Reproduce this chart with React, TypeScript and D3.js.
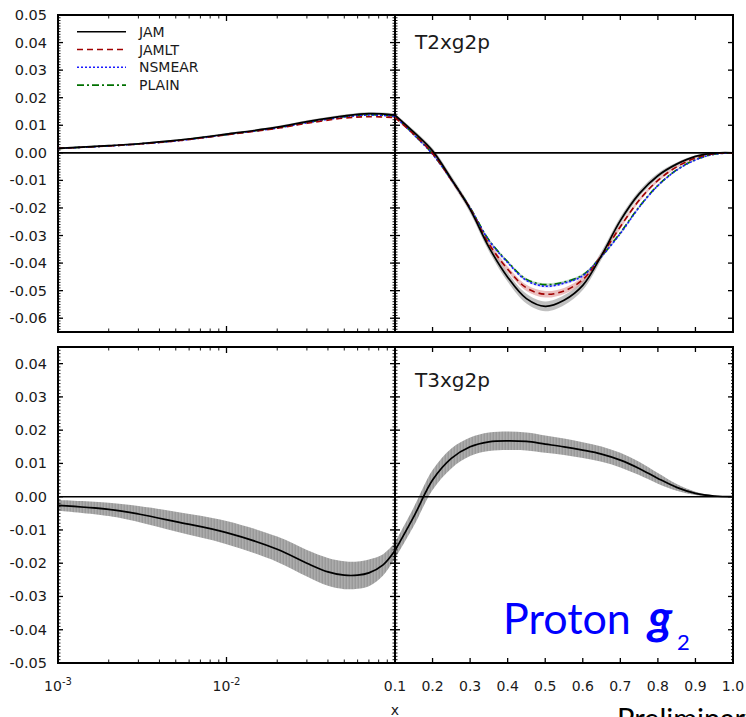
import * as d3 from "d3";

// x grids
const logX = [0.001, 0.002, 0.003, 0.005, 0.01, 0.02, 0.03, 0.05, 0.07, 0.1];
const linX = [0.1, 0.15, 0.2, 0.25, 0.3, 0.35, 0.4, 0.45, 0.5, 0.55, 0.6, 0.65, 0.7, 0.75, 0.8, 0.85, 0.9, 0.95, 1.0];

// T2xg2p (top panel)
const jamLog = [0.0016, 0.0026, 0.0033, 0.0045, 0.0068, 0.0093, 0.0113, 0.0134, 0.0142, 0.0137];
const jamltLog = [0.0016, 0.0025, 0.0032, 0.0043, 0.0065, 0.0089, 0.0107, 0.0126, 0.0131, 0.0128];
const nsmearLog = [0.0016, 0.0025, 0.0032, 0.0043, 0.0066, 0.009, 0.0109, 0.013, 0.0137, 0.0133];
const plainLog = [0.0016, 0.0025, 0.0032, 0.0044, 0.0066, 0.0091, 0.011, 0.0131, 0.0138, 0.0134];

const jamLin = [0.0137, 0.0075, 0.0007, -0.0095, -0.0205, -0.0342, -0.0451, -0.0529, -0.0557, -0.0535, -0.0481, -0.0372, -0.0246, -0.0149, -0.0083, -0.0041, -0.0013, -0.0001, 0];
const jamltLin = [0.0128, 0.0068, -0.0002, -0.0098, -0.0202, -0.033, -0.0422, -0.049, -0.0513, -0.0501, -0.046, -0.0372, -0.0268, -0.0172, -0.01, -0.0051, -0.0019, -0.0003, 0];
const nsmearLin = [0.0133, 0.0066, -0.0005, -0.0098, -0.02, -0.0318, -0.0398, -0.0463, -0.0484, -0.0473, -0.0446, -0.0376, -0.0293, -0.0198, -0.0119, -0.0063, -0.0026, -0.0005, 0];
const plainLin = [0.0134, 0.0067, -0.0004, -0.0097, -0.0199, -0.0316, -0.0395, -0.0459, -0.0478, -0.0469, -0.0443, -0.0375, -0.029, -0.0196, -0.0118, -0.0062, -0.0025, -0.0005, 0];

// band half widths
const jamErrLog = [0.0003, 0.0003, 0.0003, 0.0003, 0.0004, 0.0004, 0.0005, 0.0005, 0.0006, 0.0006];
const jamErrLin = [0.0006, 0.0008, 0.001, 0.0012, 0.0013, 0.0015, 0.0017, 0.0018, 0.0018, 0.0018, 0.0017, 0.0015, 0.0013, 0.0011, 0.0009, 0.0006, 0.0004, 0.0002, 0];
const jamltErrLin = [0.0004, 0.0005, 0.0006, 0.0007, 0.0008, 0.0009, 0.001, 0.0011, 0.0012, 0.0011, 0.001, 0.0009, 0.0008, 0.0007, 0.0006, 0.0004, 0.0003, 0.0001, 0];
const smallErrLin = [0.0003, 0.0003, 0.0003, 0.0004, 0.0004, 0.0005, 0.0005, 0.0005, 0.0005, 0.0005, 0.0005, 0.0005, 0.0005, 0.0004, 0.0004, 0.0003, 0.0002, 0.0001, 0];

// T3xg2p (bottom panel)
const t3LogX = [0.001, 0.002, 0.003, 0.005, 0.01, 0.02, 0.03, 0.04, 0.05, 0.06, 0.07, 0.085, 0.1];
const t3Log = [-0.0026, -0.0038, -0.0052, -0.0075, -0.0108, -0.0158, -0.02, -0.0226, -0.0236, -0.0236, -0.0229, -0.0205, -0.0162];
const t3ErrLog = [0.0016, 0.002, 0.0024, 0.003, 0.0035, 0.0038, 0.004, 0.0042, 0.0042, 0.0041, 0.004, 0.0032, 0.0024];
const t3Lin = [-0.0162, -0.006, 0.005, 0.0115, 0.015, 0.0165, 0.0168, 0.0166, 0.0158, 0.015, 0.014, 0.0128, 0.011, 0.0085, 0.0055, 0.0028, 0.001, 0.0002, 0];
const t3ErrLin = [0.0024, 0.0028, 0.003, 0.003, 0.0028, 0.0028, 0.0028, 0.0027, 0.0026, 0.0025, 0.0024, 0.0023, 0.0022, 0.002, 0.0016, 0.001, 0.0005, 0.0002, 0];

const topTicks = [0.05, 0.04, 0.03, 0.02, 0.01, 0, -0.01, -0.02, -0.03, -0.04, -0.05, -0.06];
const botTicks = [0.04, 0.03, 0.02, 0.01, 0, -0.01, -0.02, -0.03, -0.04, -0.05];
const linTickLabels = ["0.1", "0.2", "0.3", "0.4", "0.5", "0.6", "0.7", "0.8", "0.9", "1.0"];

const series = [
  { name: "JAM", color: "#000000", dash: "", log: jamLog, lin: jamLin },
  { name: "JAMLT", color: "#a00000", dash: "6,4", log: jamltLog, lin: jamltLin },
  { name: "NSMEAR", color: "#1a1aff", dash: "2,2", log: nsmearLog, lin: nsmearLin },
  { name: "PLAIN", color: "#007000", dash: "7,3,2,3", log: plainLog, lin: plainLin },
];

const L = 58, M = 395, R = 733;
const xLog = d3.scaleLog().domain([0.001, 0.1]).range([L, M]);
const xLin = d3.scaleLinear().domain([0.1, 1.0]).range([M, R]);
const yTop = d3.scaleLinear().domain([-0.065, 0.05]).range([332, 15]);
const yBot = d3.scaleLinear().domain([-0.05, 0.045]).range([663, 347]);

const FONT = "DejaVu Sans, sans-serif";
const curve = d3.curveCatmullRom.alpha(0.5);

function fmt(v: number) {
  const r = Math.round(v * 100);
  return (r < 0 ? "-" : "") + (Math.abs(r) / 100).toFixed(2);
}

function linePath(xs: number[], ys: number[], xs_: any, ys_: any) {
  return d3
    .line<number>()
    .x((_, i) => xs_(xs[i]))
    .y((d) => ys_(d))
    .curve(curve)(ys) || "";
}

function bandPath(xs: number[], ys: number[], err: number[], xs_: any, ys_: any) {
  return d3
    .area<number>()
    .x((_, i) => xs_(xs[i]))
    .y0((d, i) => ys_(d - err[i]))
    .y1((d, i) => ys_(d + err[i]))
    .curve(curve)(ys) || "";
}

const logMinor: number[] = [];
[0.001, 0.01].forEach((b) => d3.range(2, 10).forEach((k) => logMinor.push(k * b)));
const linMajor = d3.range(0, 10).map((i) => 0.1 + i * 0.1);

function Panel({ y, majors, top, bottom }: { y: any; majors: number[]; top: number; bottom: number }) {
  const [d0, d1] = y.domain();
  const minors = d3.range(Math.ceil(d0 * 1000), Math.floor(d1 * 1000) + 1).map((i) => i / 1000);
  const ticks: JSX.Element[] = [];
  let k = 0;
  // y ticks: left edge, middle (both sides), right edge
  minors.forEach((v) => {
    const yy = y(v);
    ticks.push(<line key={k++} x1={L} x2={L + 2.5} y1={yy} y2={yy} />);
    ticks.push(<line key={k++} x1={M - 2.5} x2={M + 2.5} y1={yy} y2={yy} />);
    if (bottom > 400) ticks.push(<line key={k++} x1={R - 2} x2={R} y1={yy} y2={yy} />);
  });
  majors.forEach((v) => {
    const yy = y(v);
    ticks.push(<line key={k++} x1={L} x2={L + 5} y1={yy} y2={yy} strokeWidth={1.3} />);
    ticks.push(<line key={k++} x1={M - 5} x2={M + 5} y1={yy} y2={yy} strokeWidth={1.3} />);
    ticks.push(<line key={k++} x1={R - 5} x2={R} y1={yy} y2={yy} strokeWidth={1.3} />);
  });
  // x ticks top and bottom
  [top, bottom].forEach((edge, j) => {
    const s = j === 0 ? 1 : -1;
    [0.001, 0.01, 0.1].forEach((v) =>
      ticks.push(<line key={k++} x1={xLog(v)} x2={xLog(v)} y1={edge} y2={edge + s * 6} strokeWidth={1.3} />)
    );
    logMinor.forEach((v) =>
      ticks.push(<line key={k++} x1={xLog(v)} x2={xLog(v)} y1={edge} y2={edge + s * 3.5} />)
    );
    linMajor.forEach((v) =>
      ticks.push(<line key={k++} x1={xLin(v)} x2={xLin(v)} y1={edge} y2={edge + s * 5} strokeWidth={1.3} />)
    );
  });
  return (
    <g>
      <g stroke="#000" strokeWidth={0.9}>{ticks}</g>
      <line x1={L} x2={R} y1={y(0)} y2={y(0)} stroke="#000" strokeWidth={1.6} />
      <rect x={L} y={top} width={R - L} height={bottom - top} fill="none" stroke="#000" strokeWidth={2} />
      <line x1={M} x2={M} y1={top} y2={bottom} stroke="#000" strokeWidth={2} />
      {majors.map((v) => (
        <text key={v} x={47} y={y(v) + 5} textAnchor="end" fontSize={14.5} fill="#1a1a1a" fontFamily={FONT}>
          {fmt(v)}
        </text>
      ))}
    </g>
  );
}

export default function App() {
  return (
    <svg
      width={746}
      height={717}
      style={{ position: "absolute", left: 0, top: 0, background: "#fff", overflow: "hidden" }}
      fontFamily={FONT}
    >
      <defs>
        <pattern id="stripes" width={3} height={10} patternUnits="userSpaceOnUse">
          <rect width={3} height={10} fill="#a3a3a3" />
          <rect x={1} width={1} height={10} fill="#999999" />
          <rect x={2} width={1} height={10} fill="#acacac" />
        </pattern>
        <clipPath id="clipL">
          <rect x={L} y={0} width={M - L} height={717} />
        </clipPath>
        <clipPath id="clipR">
          <rect x={M} y={0} width={R - M} height={717} />
        </clipPath>
      </defs>

      {/* top panel bands */}
      <g clipPath="url(#clipL)">
        <path d={bandPath(logX, jamLog, jamErrLog, xLog, yTop)} fill="#9a9a9a" opacity={0.5} />
      </g>
      <g clipPath="url(#clipR)">
        <path d={bandPath(linX, jamLin, jamErrLin, xLin, yTop)} fill="#8c8c8c" opacity={0.55} />
        <path d={bandPath(linX, jamltLin, jamltErrLin, xLin, yTop)} fill="#d27070" opacity={0.45} />
        <path d={bandPath(linX, nsmearLin, smallErrLin, xLin, yTop)} fill="#7070ff" opacity={0.3} />
        <path d={bandPath(linX, plainLin, smallErrLin, xLin, yTop)} fill="#50a050" opacity={0.3} />
      </g>

      <Panel y={yTop} majors={topTicks} top={15} bottom={332} />

      {/* top panel lines */}
      {[...series].reverse().map((s) => (
        <g key={s.name} fill="none" stroke={s.color} strokeWidth={s.name === "JAM" ? 1.7 : 1.6} strokeDasharray={s.dash}>
          <path d={linePath(logX, s.log, xLog, yTop)} />
          <path d={linePath(linX, s.lin, xLin, yTop)} />
        </g>
      ))}

      {/* legend */}
      {series.map((s, i) => (
        <g key={s.name}>
          <line x1={77} x2={126} y1={31.7 + i * 17.8} y2={31.7 + i * 17.8} stroke={s.color} strokeWidth={1.6} strokeDasharray={s.dash} />
          <text x={139} y={31.7 + i * 17.8 + 5} fontSize={14} fill="#1a1a1a">
            {s.name}
          </text>
        </g>
      ))}
      <text x={415} y={49} fontSize={20} fill="#1a1a1a">T2xg2p</text>

      {/* bottom panel */}
      <g clipPath="url(#clipL)">
        <path d={bandPath(t3LogX, t3Log, t3ErrLog, xLog, yBot)} fill="url(#stripes)" />
      </g>
      <g clipPath="url(#clipR)">
        <path d={bandPath(linX, t3Lin, t3ErrLin, xLin, yBot)} fill="url(#stripes)" />
      </g>
      <Panel y={yBot} majors={botTicks} top={347} bottom={663} />
      <g fill="none" stroke="#000" strokeWidth={1.7}>
        <path d={linePath(t3LogX, t3Log, xLog, yBot)} />
        <path d={linePath(linX, t3Lin, xLin, yBot)} />
      </g>
      <text x={415} y={387} fontSize={20} fill="#1a1a1a">T3xg2p</text>

      {/* x tick labels */}
      {[0.001, 0.01].map((v, i) => (
        <text key={v} x={xLog(v)} y={691} textAnchor="middle" fontSize={14} fill="#1a1a1a">
          10
          <tspan dy={-6} fontSize={10}>{i === 0 ? "-3" : "-2"}</tspan>
        </text>
      ))}
      {linMajor.map((v, i) => (
        <text key={v} x={xLin(v)} y={691} textAnchor="middle" fontSize={14} fill="#1a1a1a">
          {linTickLabels[i]}
        </text>
      ))}
      <text x={395} y={715} textAnchor="middle" fontSize={14} fill="#1a1a1a">x</text>

      {/* annotation */}
      <text x={503} y={634} fontSize={43} fill="#0000ff" fontFamily="Lato, sans-serif">Proton</text>
      <text x={648} y={634} fontSize={48} fill="#0000ff" fontFamily="Lato, sans-serif" fontWeight="bold" fontStyle="italic">g</text>
      <text x={677} y={650} fontSize={22} fill="#0000ff" fontFamily="Lato, sans-serif">2</text>
      <text x={617} y={729} fontSize={29} fill="#000" fontFamily="Lato, sans-serif">Preliminary</text>
    </svg>
  );
}
